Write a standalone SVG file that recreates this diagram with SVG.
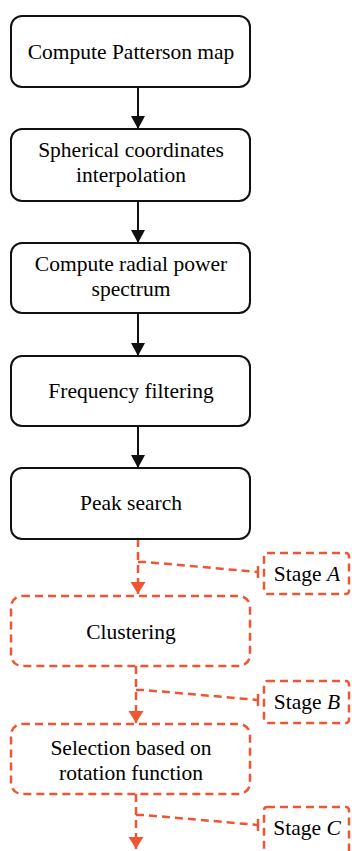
<svg xmlns="http://www.w3.org/2000/svg" width="352" height="851" viewBox="0 0 352 851">
<defs>
<style>
.box{fill:#fff;stroke:#111;stroke-width:2}
.dbox{fill:#fff;stroke:#EE5533;stroke-width:2.5;stroke-dasharray:8 5}
.blk{stroke:#111;stroke-width:2;fill:none}
.red{stroke:#EE5533;stroke-width:2.5;fill:none;stroke-dasharray:8 5}
.tick{stroke:#EE5533;stroke-width:2.5;fill:none}
</style>
<marker id="ab" markerUnits="userSpaceOnUse" markerWidth="14" markerHeight="14" refX="13" refY="7" orient="auto">
<path d="M0,0 L13,7 L0,14 Z" fill="#111"/>
</marker>
<marker id="ar" markerUnits="userSpaceOnUse" markerWidth="16" markerHeight="16" refX="12" refY="8" orient="auto">
<path d="M0,0.5 L12,8 L0,15.5 Z" fill="#EE5533"/>
</marker>
</defs>
<g id="connectors">
<line class="blk" x1="138" y1="87" x2="138" y2="129" marker-end="url(#ab)"/>
<line class="blk" x1="138" y1="201" x2="138" y2="243" marker-end="url(#ab)"/>
<line class="blk" x1="138" y1="313" x2="138" y2="356" marker-end="url(#ab)"/>
<line class="blk" x1="138" y1="426" x2="138" y2="468" marker-end="url(#ab)"/>
<line class="red" x1="138" y1="539" x2="138" y2="594" marker-end="url(#ar)"/>
<line class="red" x1="136" y1="666" x2="136" y2="723" marker-end="url(#ar)"/>
<line class="red" x1="136" y1="794" x2="136" y2="849" marker-end="url(#ar)"/>
<path class="red" d="M138,562 L146,562 L258,572"/>
<line class="tick" x1="258" y1="566" x2="258" y2="578"/>
<path class="red" d="M136,690 L144,690 L258,700"/>
<line class="tick" x1="258" y1="694" x2="258" y2="706"/>
<path class="red" d="M136,815 L144,815 L258,825"/>
<line class="tick" x1="258" y1="819" x2="258" y2="831"/>
</g>
<g id="n1"><rect class="box" x="11" y="16" width="239" height="71" rx="11"/><text x="131" y="59" font-family="Liberation Serif" font-size="21.5" text-anchor="middle">Compute Patterson map</text></g>
<g id="n2"><rect class="box" x="11" y="129" width="239" height="72" rx="11"/><text x="131" y="157" font-family="Liberation Serif" font-size="21.5" text-anchor="middle">Spherical coordinates</text><text x="131" y="182" font-family="Liberation Serif" font-size="21.5" text-anchor="middle">interpolation</text></g>
<g id="n3"><rect class="box" x="11" y="243" width="239" height="70" rx="11"/><text x="131" y="271" font-family="Liberation Serif" font-size="21.5" text-anchor="middle">Compute radial power</text><text x="131" y="296" font-family="Liberation Serif" font-size="21.5" text-anchor="middle">spectrum</text></g>
<g id="n4"><rect class="box" x="11" y="356" width="239" height="70" rx="11"/><text x="131" y="398" font-family="Liberation Serif" font-size="21.5" text-anchor="middle">Frequency filtering</text></g>
<g id="n5"><rect class="box" x="11" y="468" width="239" height="71" rx="11"/><text x="131" y="510" font-family="Liberation Serif" font-size="21.5" text-anchor="middle">Peak search</text></g>
<g id="n6"><rect class="dbox" x="11" y="596" width="239" height="70" rx="11"/><text x="131" y="639" font-family="Liberation Serif" font-size="21.5" text-anchor="middle">Clustering</text></g>
<g id="n7"><rect class="dbox" x="11" y="724" width="239" height="70" rx="11"/><text x="131" y="755" font-family="Liberation Serif" font-size="21.5" text-anchor="middle">Selection based on</text><text x="131" y="780" font-family="Liberation Serif" font-size="21.5" text-anchor="middle">rotation function</text></g>
<g id="sA"><rect class="dbox" x="264" y="553" width="85" height="41" rx="3"/><text x="307" y="581" font-family="Liberation Serif" font-size="21.5" text-anchor="middle">Stage <tspan font-style="italic">A</tspan></text></g>
<g id="sB"><rect class="dbox" x="264" y="681" width="85" height="42" rx="3"/><text x="307" y="709" font-family="Liberation Serif" font-size="21.5" text-anchor="middle">Stage <tspan font-style="italic">B</tspan></text></g>
<g id="sC"><rect class="dbox" x="264" y="807" width="85" height="50" rx="3"/><text x="307" y="835" font-family="Liberation Serif" font-size="21.5" text-anchor="middle">Stage <tspan font-style="italic">C</tspan></text></g>
</svg>
